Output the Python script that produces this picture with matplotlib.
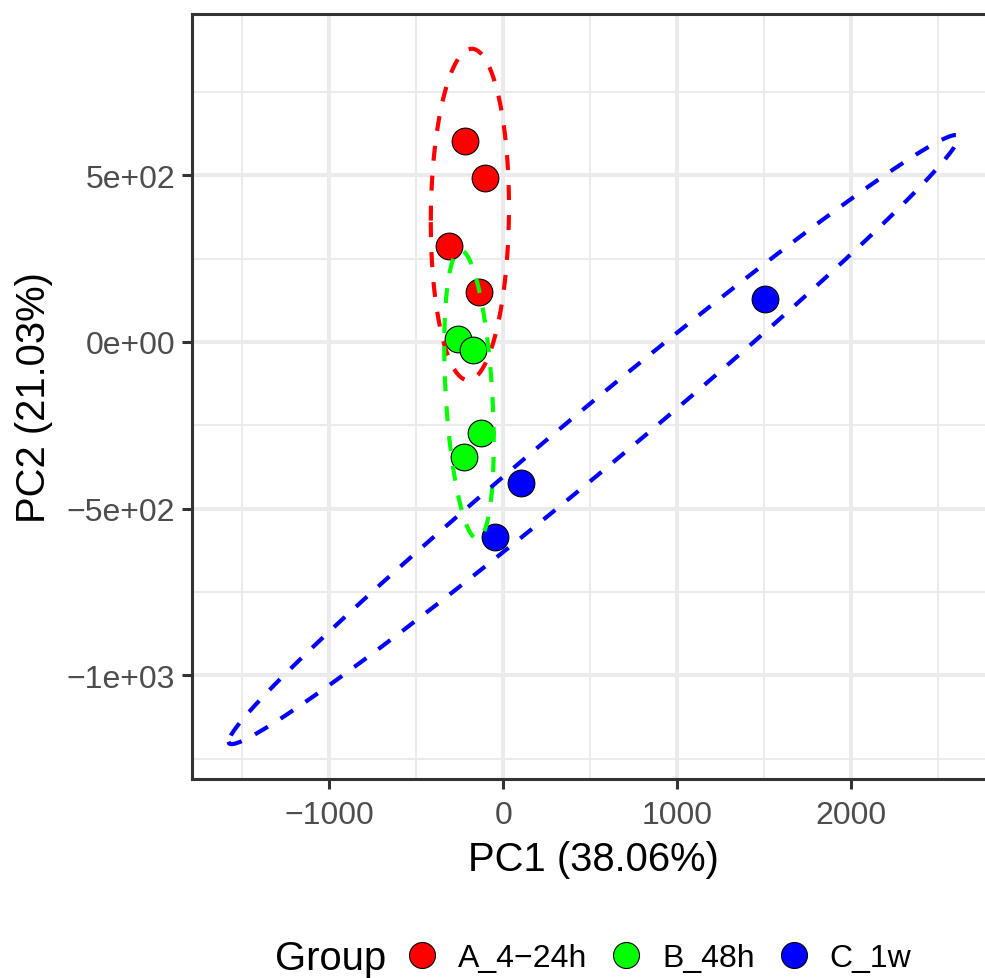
import numpy as np
import matplotlib
matplotlib.use("Agg")
import matplotlib.pyplot as plt
from matplotlib.lines import Line2D

plt.rcParams['font.family'] = ['Liberation Sans', 'DejaVu Sans']

# ---- data ----
groups = ["A_4\u221224h", "B_48h", "C_1w"]
colors = ["#FF0000", "#00FF00", "#0000FF"]
pc1_A = [-217, -103, -309, -137]
pc2_A = [602, 492, 287, 149]
pc1_B = [-259, -176, -126, -225]
pc2_B = [8, -23, -272, -345]
pc1_C = [103, -50, 1505]
pc2_C = [-423, -584, 128]
xlabel = "PC1 (38.06%)"
ylabel = "PC2 (21.03%)"
x_ticks = [-1000, 0, 1000, 2000]
x_ticklabels = ["\u22121000", "0", "1000", "2000"]
y_ticks = [-1000, -500, 0, 500]
y_ticklabels = ["\u22121e+03", "\u22125e+02", "0e+00", "5e+02"]

xs = [pc1_A, pc1_B, pc1_C]
ys = [pc2_A, pc2_B, pc2_C]


def norm_ellipse(x, y, level=0.95, segments=100):
    pts = np.column_stack([x, y]).astype(float)
    mu = pts.mean(axis=0)
    S = np.cov(pts, rowvar=False)
    r = np.sqrt(-2.0 * np.log(1 - level))  # sqrt(qchisq(level, 2))
    L = np.linalg.cholesky(S)
    t = np.linspace(-np.pi, np.pi, segments)
    circ = np.column_stack([np.cos(t), np.sin(t)])
    ell = mu + r * circ @ L.T
    return ell[:, 0], ell[:, 1]


W, H = 985, 979
fig = plt.figure(figsize=(W / 100, H / 100), dpi=100)
ax = fig.add_axes([192 / W, 1 - 780 / H, (995 - 192) / W, (780 - 15) / H])

ells = [norm_ellipse(x, y) for x, y in zip(xs, ys)]

for x, y, c in zip(xs, ys, colors):
    ax.scatter(x, y, s=370, c=c, edgecolors="black", linewidths=0.8, zorder=3)
for (ex, ey), c in zip(ells, colors):
    ax.plot(ex, ey, color=c, lw=3.0, dashes=(3.6, 3.6), zorder=4)

# limits like ggplot: range of everything plotted, expanded by 5%
allx = np.concatenate([e[0] for e in ells] + [np.array(v, float) for v in xs])
ally = np.concatenate([e[1] for e in ells] + [np.array(v, float) for v in ys])
dx = allx.max() - allx.min()
dy = ally.max() - ally.min()
ax.set_xlim(allx.min() - 0.05 * dx, allx.max() + 0.05 * dx)
ax.set_ylim(ally.min() - 0.05 * dy, ally.max() + 0.05 * dy)

ax.set_xticks(x_ticks)
ax.set_xticklabels(x_ticklabels)
ax.set_yticks(y_ticks)
ax.set_yticklabels(y_ticklabels)
ax.set_xticks([-1500, -500, 500, 1500, 2500], minor=True)
ax.set_yticks([-1250, -750, -250, 250, 750], minor=True)

ax.grid(which="major", color="#EBEBEB", lw=2.9, zorder=0)
ax.grid(which="minor", color="#EBEBEB", lw=1.5, zorder=0)
ax.set_axisbelow(True)

for s in ax.spines.values():
    s.set_color("#333333")
    s.set_linewidth(2.2)

ax.tick_params(which="major", length=7.2, width=2.2, color="#333333",
               labelsize=23, labelcolor="#4D4D4D", pad=5)
ax.tick_params(axis="x", which="major", pad=8)
ax.tick_params(which="minor", length=0)

ax.set_xlabel(xlabel, fontsize=28.8, labelpad=7)
ax.set_ylabel(ylabel, fontsize=28.8, labelpad=10)

# legend at the bottom
fig.text(275 / W, 1 - 959 / H, "Group", fontsize=28.8, va="center", ha="left")
handles = [Line2D([], [], ls="none", marker="o", markersize=18.7,
                  markerfacecolor=c, markeredgecolor="black", markeredgewidth=0.8)
           for c in colors]
fig.legend(handles, groups, loc="center left", bbox_to_anchor=(409 / W, 1 - 959 / H),
           ncol=3, frameon=False, fontsize=23, handlelength=0.8,
           handletextpad=0.72, columnspacing=0.83, borderpad=0, borderaxespad=0)

fig.savefig("out.png", dpi=100)
